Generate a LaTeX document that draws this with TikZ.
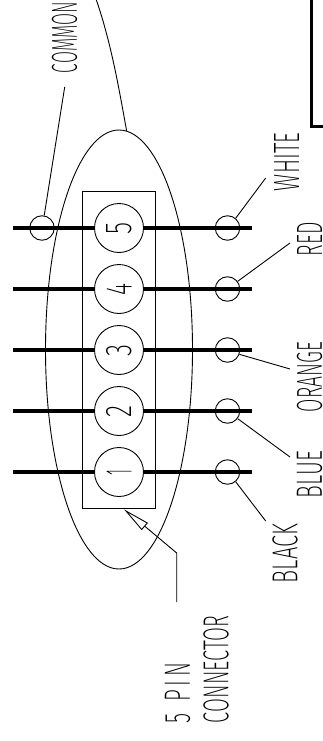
\documentclass[tikz,border=0pt]{standalone}
\usepackage{fontspec}
\usepackage{graphicx}
\newfontfamily\cadfont[UprightFont=* ExtraLight]{Fira Sans}
\newcommand{\cadtext}[3]{\resizebox{#1pt}{#2pt}{\cadfont #3}}
\tikzset{
  x=1pt,y=-1pt,
  thin line/.style={line width=0.9pt,black},
  wire/.style={line width=3.3pt,black},
  bracket/.style={line width=3pt,black},
  pin/.style={circle,draw,line width=0.9pt,minimum size=49pt,inner sep=0pt},
  tap/.style={circle,draw,line width=0.9pt,minimum size=24.5pt,inner sep=0pt},
  lbl/.style={rotate=90,inner sep=0pt,outer sep=0pt,anchor=center},
  shell/.style={ellipse,draw,line width=0.9pt,minimum width=147pt,minimum height=439pt,inner sep=0pt},
  housing/.style={rectangle,draw,line width=0.9pt,minimum width=73.5pt,minimum height=317pt,inner sep=0pt},
}
\usetikzlibrary{shapes.geometric}
\begin{document}
\begin{tikzpicture}
\useasboundingbox (0,0) rectangle (323,741);
\clip (0,0) rectangle (323,741);
\node[shell] (shell) at (119,349.5) {};
\node[housing] (housing) at (118.7,349.5) {};
% wires
\foreach \n/\yy in {5/228,4/289,3/350,2/411,1/472}{
  \coordinate (wl\n) at (13,\yy);
  \coordinate (wr\n) at (252,\yy);
  \node[pin,label={[lbl]center:\cadtext{\ifnum\n=1 6\else 12\fi}{25}{\n}}] (p\n) at (119,\yy) {};
  \node[tap] (t\n) at (227.5,\yy) {};
  \draw[wire] (wl\n) -- (p\n);
  \draw[wire] (p\n) -- (wr\n);
}
\node[tap] (tc) at (42,228) {};
% labels
\node[lbl] (common) at (64.5,37.5) {\cadtext{71}{25}{COMMON}};
\node[lbl] (white) at (286.5,162) {\cadtext{58}{25}{WHITE}};
\node[lbl] (red) at (309.5,239) {\cadtext{34}{25}{RED}};
\node[lbl] (orange) at (309.5,377) {\cadtext{70}{25}{ORANGE}};
\node[lbl] (blue) at (309.5,474.5) {\cadtext{47}{25}{BLUE}};
\node[lbl] (black) at (285,553.5) {\cadtext{59}{25}{BLACK}};
\node[lbl] (pin5) at (177.5,693) {\cadtext{60}{25}{5\ \ P\,I\,N}};
\node[lbl] (conn) at (216,669.5) {\cadtext{107}{25}{CONNECTOR}};
% leaders
\coordinate (lc) at (64.7,87);
\coordinate (lw) at (265.7,178);
\coordinate (lr) at (290,243);
\coordinate (lo) at (290,369);
\coordinate (lb) at (290,457);
\coordinate (lk) at (265.7,521);
\draw[thin line] (lc) -- (tc.80);
\draw[thin line] (lw) -- (t5.50);
\draw[thin line] (lr) -- (t4.37);
\draw[thin line] (lo) -- (t3.-20);
\draw[thin line] (lb) -- (t2.-37);
\draw[thin line] (lk) -- (t1.-50);
% cable
\coordinate (cabletop) at (96,-1);
\draw[thin line] (shell.88.4) .. controls (120,95) and (112,45) .. (cabletop);
% connector callout
\coordinate (tip) at (126,511);
\coordinate (elbow) at (176.7,553);
\coordinate (tail) at (176.7,602);
\coordinate (barbA) at (147.3,523);
\coordinate (barbB) at (141.7,529.5);
\draw[thin line] (tail) -- (elbow) -- (144.5,526);
\draw[thin line,line join=miter] (tip) -- (barbA) -- (barbB) -- cycle;
% bracket
\coordinate (bracketA) at (311.7,-2);
\coordinate (bracketB) at (311.7,127);
\coordinate (bracketC) at (325,127);
\draw[bracket] (bracketA) -- (bracketB) -- (bracketC);
\end{tikzpicture}
\end{document}
